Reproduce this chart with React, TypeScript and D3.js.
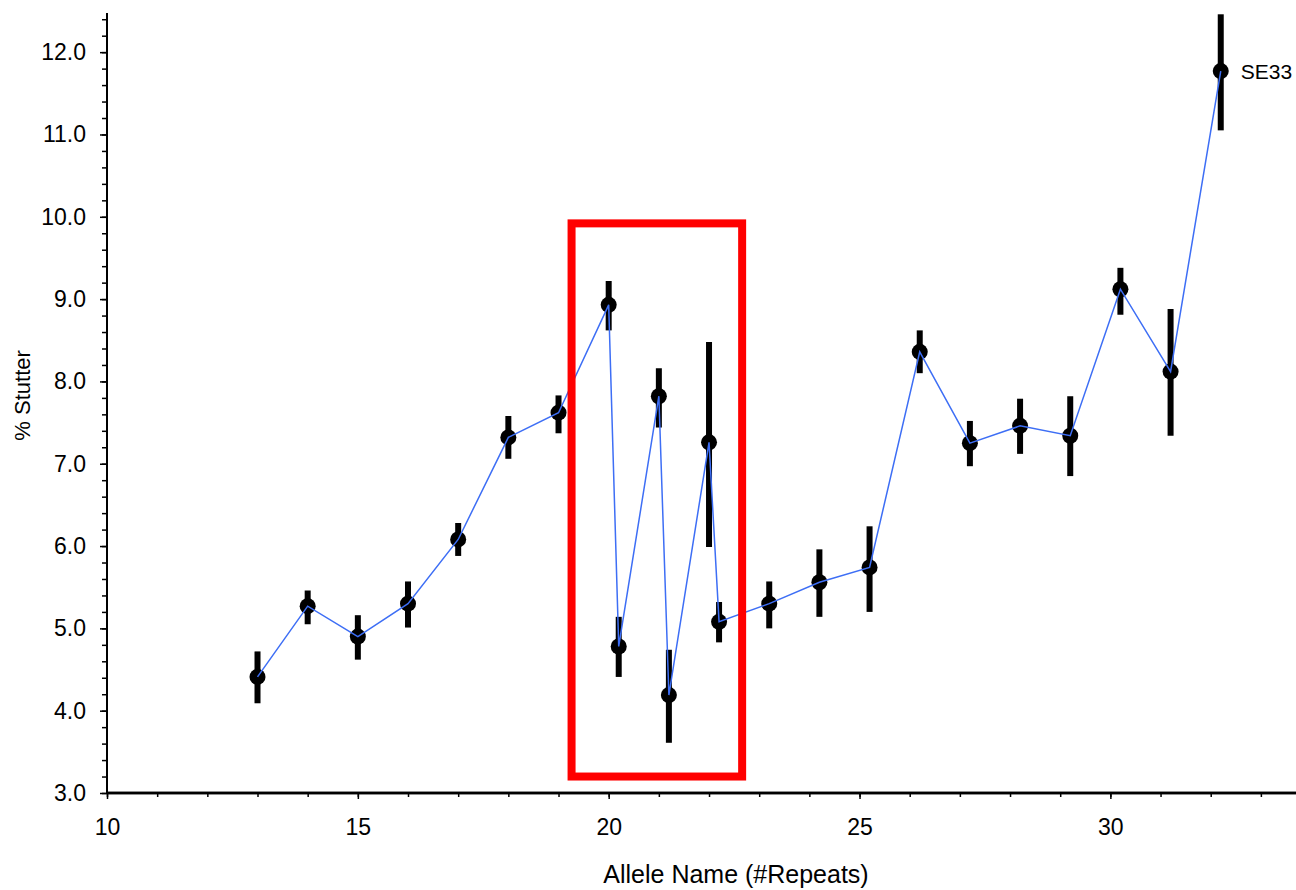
import { useEffect, useRef } from 'react';
import * as d3 from 'd3';

// allele (repeat number), mean % stutter, error bar low / high
const alleles = [13, 14, 15, 16, 17, 18, 19, 20, 20.2, 21, 21.2, 22, 22.2, 23.2, 24.2, 25.2, 26.2, 27.2, 28.2, 29.2, 30.2, 31.2, 32.2];
const stutter = [4.41, 5.27, 4.90, 5.30, 6.08, 7.32, 7.62, 8.93, 4.78, 7.82, 4.19, 7.26, 5.08, 5.30, 5.56, 5.74, 8.36, 7.25, 7.46, 7.34, 9.12, 8.12, 11.77];
const errLow = [4.09, 5.05, 4.62, 5.01, 5.88, 7.06, 7.37, 8.62, 4.41, 7.44, 3.61, 5.99, 4.83, 5.00, 5.14, 5.20, 8.10, 6.97, 7.12, 6.85, 8.81, 7.34, 11.05];
const errHigh = [4.72, 5.46, 5.16, 5.57, 6.28, 7.58, 7.83, 9.22, 5.14, 8.16, 4.74, 8.48, 5.32, 5.57, 5.96, 6.24, 8.62, 7.52, 7.79, 7.82, 9.38, 8.88, 12.46];

const locusName = 'SE33';
const xTicks = [10, 15, 20, 25, 30];
const yTicks = [3, 4, 5, 6, 7, 8, 9, 10, 11, 12];

// highlighted region (data coords)
const boxX = [19.26, 22.66];
const boxY = [3.2, 9.92];

export default function App() {
    const svgRef = useRef<SVGSVGElement>(null);

    useEffect(() => {
        const svg = d3.select(svgRef.current);
        svg.selectAll('*').remove();

        const width = 1296;
        const height = 890;
        const font = '"Liberation Sans", Arial, sans-serif';

        const x = d3.scaleLinear().domain([10, 33.7]).range([107, 1296]);
        const y = d3.scaleLinear().domain([3, 12.5]).range([793, 11]);

        svg.attr('width', width).attr('height', height);

        const data = alleles.map((a, i) => ({ a, v: stutter[i], lo: errLow[i], hi: errHigh[i] }));

        // x axis
        const xAxis = svg.append('g').attr('transform', `translate(0,${y(3)})`);
        xAxis.call(d3.axisBottom(x).tickValues(d3.range(10, 34, 1)).tickSize(4).tickFormat(() => ''));
        xAxis.append('g').call(d3.axisBottom(x).tickValues(xTicks).tickSize(6).tickPadding(20).tickFormat(d3.format('d')));
        xAxis.selectAll('.domain').attr('stroke-width', 2.5).attr('d', `M${x(10)},0H${width}`);
        xAxis.selectAll('line').attr('stroke-width', 1.5);
        xAxis.selectAll('text').attr('font-family', font).attr('font-size', 23).attr('fill', '#000');

        // y axis
        const yAxis = svg.append('g').attr('transform', `translate(${x(10)},0)`);
        yAxis.call(d3.axisLeft(y).tickValues(d3.range(3, 12.51, 0.2)).tickSize(5).tickFormat(() => ''));
        yAxis.append('g').call(d3.axisLeft(y).tickValues(yTicks).tickSize(7).tickPadding(14).tickFormat(d3.format('.1f')));
        yAxis.selectAll('.domain').attr('stroke-width', 2).attr('d', `M0,${y(3)}V${y(12.5) + 2}`);
        yAxis.selectAll('line').attr('stroke-width', 1.5);
        yAxis.selectAll('text').attr('font-family', font).attr('font-size', 23).attr('fill', '#000');

        // axis titles
        svg.append('text')
            .attr('x', 736)
            .attr('y', 883)
            .attr('text-anchor', 'middle')
            .attr('font-family', font)
            .attr('font-size', 25)
            .text('Allele Name (#Repeats)');

        svg.append('text')
            .attr('transform', `translate(30,${y(7.83)}) rotate(-90)`)
            .attr('text-anchor', 'middle')
            .attr('font-family', font)
            .attr('font-size', 22)
            .text('% Stutter');

        // error bars
        svg.append('g')
            .selectAll('line')
            .data(data)
            .join('line')
            .attr('x1', (d) => x(d.a))
            .attr('x2', (d) => x(d.a))
            .attr('y1', (d) => y(d.lo))
            .attr('y2', (d) => y(d.hi))
            .attr('stroke', '#000')
            .attr('stroke-width', 6);

        // points
        svg.append('g')
            .selectAll('circle')
            .data(data)
            .join('circle')
            .attr('cx', (d) => x(d.a))
            .attr('cy', (d) => y(d.v))
            .attr('r', 8)
            .attr('fill', '#000');

        // connecting line
        const line = d3.line<{ a: number; v: number }>()
            .x((d) => x(d.a))
            .y((d) => y(d.v));
        svg.append('path')
            .datum(data)
            .attr('d', line)
            .attr('fill', 'none')
            .attr('stroke', '#3d6ef5')
            .attr('stroke-width', 1.5);

        // locus label
        const last = data[data.length - 1];
        svg.append('text')
            .attr('x', x(last.a) + 20)
            .attr('y', y(last.v) + 8)
            .attr('font-family', font)
            .attr('font-size', 21)
            .text(locusName);

        // highlight box
        svg.append('rect')
            .attr('x', x(boxX[0]))
            .attr('y', y(boxY[1]))
            .attr('width', x(boxX[1]) - x(boxX[0]))
            .attr('height', y(boxY[0]) - y(boxY[1]))
            .attr('fill', 'none')
            .attr('stroke', '#ff0000')
            .attr('stroke-width', 8);
    }, []);

    return <svg ref={svgRef} style={{ position: 'absolute', left: 0, top: 0, background: '#fff' }} />;
}
